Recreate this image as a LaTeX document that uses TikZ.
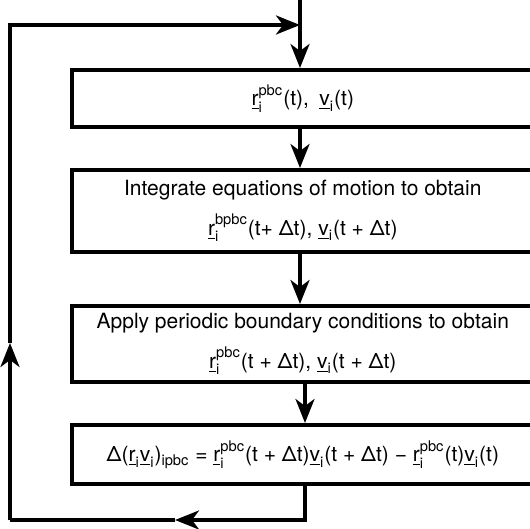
\documentclass[tikz,border=0pt]{standalone}
\usepackage{amsmath}
\usepackage{fontspec}
\setmainfont{TeX Gyre Heros}
\usetikzlibrary{arrows.meta}

\newcommand{\vr}{\underline{\text{r}}}
\newcommand{\vv}{\underline{\text{v}}}

\tikzset{
    box/.style={draw, line width=1.8pt, anchor=north west, minimum width=231pt,
        align=center, font=\fontsize{10.5}{20}\selectfont, inner sep=2pt},
    flow/.style={line width=1.8pt, -{Stealth[length=12pt, width=9.5pt, inset=3.5pt]}},
    plain/.style={line width=1.8pt}
}

\begin{document}
\begin{tikzpicture}[x=0.5pt, y=-0.5pt]
            \useasboundingbox (0,0) rectangle (530,529);

            % boxes
            \node[box, minimum height=28.5pt] (state) at (70,68)
                {$\vr_{\text{i}}^{\text{pbc}}$(t),\enspace $\vv_{\text{i}}$(t)};
            \node[box, minimum height=41pt] (integ) at (70,168)
                {Integrate equations of motion to obtain\\
                 $\vr_{\text{i}}^{\text{bpbc}}$(t+ Δt), $\vv_{\text{i}}$(t + Δt)};
            \node[box, minimum height=38pt] (apply) at (70,304)
                {Apply periodic boundary conditions to obtain\\
                 $\vr_{\text{i}}^{\text{pbc}}$(t + Δt), $\vv_{\text{i}}$(t + Δt)};
            \node[box, minimum height=29.5pt] (accum) at (70,423)
                {Δ($\vr_{\text{i}}\vv_{\text{i}}$)$_{\text{ipbc}}$ = $\vr_{\text{i}}^{\text{pbc}}$(t + Δt)$\vv_{\text{i}}$(t + Δt) − $\vr_{\text{i}}^{\text{pbc}}$(t)$\vv_{\text{i}}$(t)};

            % loop corners
            \coordinate (entry) at (300,0);
            \coordinate (exit) at (305,0);
            \coordinate (loopTL) at (10,25);
            \coordinate (loopTR) at (300,25);
            \coordinate (loopBL) at (10,520);
            \coordinate (upTip) at (10,343);
            \coordinate (leftTip) at (175,520);

            \draw[flow] (entry) -- (entry |- state.north);
            \draw[flow] (state.south -| entry) -- (integ.north -| entry);
            \draw[flow] (integ.south -| entry) -- (apply.north -| entry);
            \draw[flow] (apply.south -| exit) -- (accum.north -| exit);

            \draw[flow] (accum.south -| exit) |- (leftTip);
            \draw[plain] (leftTip) -- (loopBL);
            \draw[flow] (loopBL) -- (upTip);
            \draw[flow] (upTip) -- (loopTL) -- (loopTR);
        \end{tikzpicture}
\end{document}
